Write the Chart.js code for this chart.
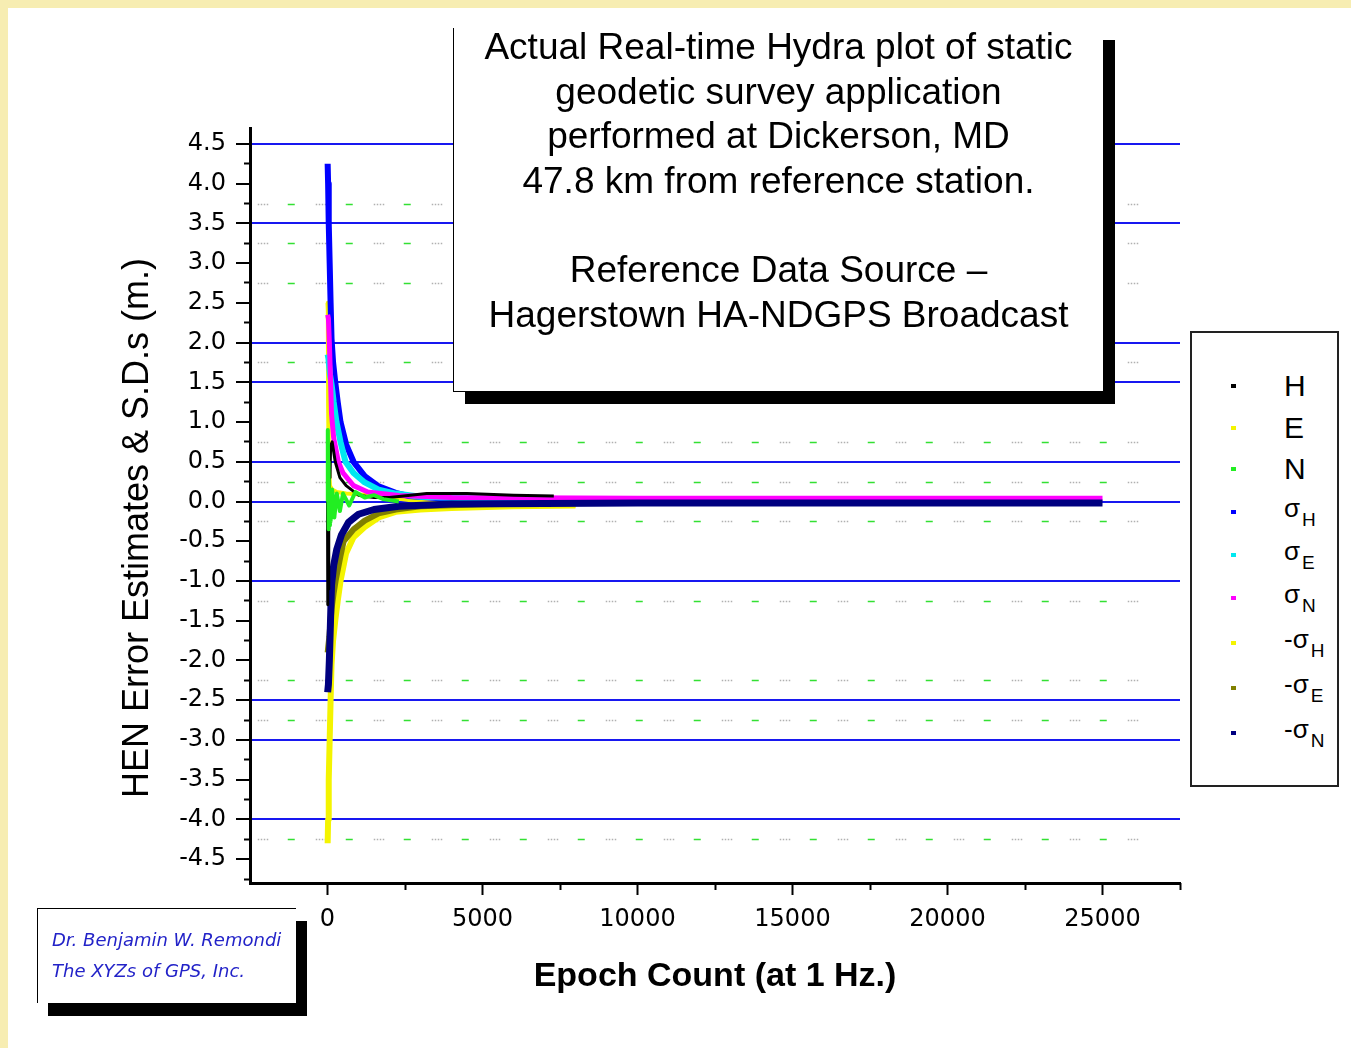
<!DOCTYPE html>
<html>
<head>
<meta charset="utf-8">
<title>Hydra plot</title>
<script src="https://cdn.jsdelivr.net/npm/chart.js@4.4.1/dist/chart.umd.min.js"></script>
<style>
  html, body { margin: 0; padding: 0; }
  body {
    width: 1351px; height: 1048px; position: relative; overflow: hidden;
    background: #f7edb2;
    font-family: "Liberation Sans", Arial, sans-serif;
  }
  #page { position: absolute; left: 8px; top: 8px; right: 0; bottom: 0; background: #fff; }
  #myChart { position: absolute; left: 0; top: 0; }
  #note {
    position: absolute; left: 453px; top: 28px; width: 650px; height: 364px;
    box-sizing: border-box; background: #fff;
    border-left: 1px solid #000; border-bottom: 1px solid #000;
    box-shadow: 12px 12px 0 #000;
    text-align: center; font-size: 37px; line-height: 44.6px; color: #000;
  }
  #note div { margin-top: -3px; }
  #legend {
    position: absolute; left: 1190px; top: 331px; width: 149px; height: 456px;
    box-sizing: border-box; background: #fff; border: 2px solid #222;
  }
  .mk { position: absolute; width: 5px; height: 4px; }
  .lb { position: absolute; color: #000; line-height: 1; }
  .lb sub { font-size: 19px; vertical-align: -9px; margin-left: 2px; }
  #sign {
    position: absolute; left: 37px; top: 908px; width: 259px; height: 95px;
    box-sizing: border-box; background: #fff;
    border-top: 1px solid #000; border-left: 1px solid #000;
    box-shadow: 11px 13px 0 #000;
    padding: 15px 0 0 14px;
    font-family: "DejaVu Sans", sans-serif; font-style: italic;
    font-size: 18px; line-height: 31px; color: #2323c8;
    white-space: nowrap;
  }
</style>
</head>
<body>
<div id="page"></div>
<canvas id="myChart" width="1351" height="1048"></canvas>
<div id="note"><div>Actual Real-time Hydra plot of static<br>geodetic survey application<br>performed at Dickerson, MD<br>47.8 km from reference station.<br><br>Reference Data Source –<br>Hagerstown HA-NDGPS Broadcast</div></div>
<div id="legend"></div>
<div id="sign">Dr. Benjamin W. Remondi<br>The XYZs of GPS, Inc.</div>
<script>
// tick positions
const yMajor = [-4.5, -4, -3.5, -3, -2.5, -2, -1.5, -1, -0.5, 0, 0.5, 1, 1.5, 2, 2.5, 3, 3.5, 4, 4.5];
const yMinor = [-4.75, -4.25, -3.75, -3.25, -2.75, -2.25, -1.75, -1.25, -0.75, -0.25, 0.25, 0.75, 1.25, 1.75, 2.25, 2.75, 3.25, 3.75, 4.25];
const xMajor = [0, 5000, 10000, 15000, 20000, 25000];
const xMinor = [2500, 7500, 12500, 17500, 22500, 27500];
const blueLines = [4.5, 3.5, 2, 1.5, 0.5, 0, -1, -2.5, -3, -4];
const dottedLines = [3.75, 3.25, 2.75, 1.75, 0.75, 0.25, -0.25, -1.25, -2.25, -2.75, -4.25];

// series (epoch, metres)
const hEpoch = [0, 5, 15, 25, 40, 60, 80, 100, 150, 250, 400, 600, 1000, 1500, 2000, 3200, 4500, 6000, 7300];
const hVals  = [0.0, -1.3, -0.8, -1.1, -0.4, 0.6, 0.3, 0.7, 0.75, 0.5, 0.3, 0.2, 0.08, 0.05, 0.05, 0.1, 0.1, 0.08, 0.07];
const eEpoch = [0, 10, 20, 40, 80, 150, 300, 600, 1000, 1500, 2000, 3000, 4000, 6000, 8000];
const eVals  = [2.5, 2.4, 1.2, 0.5, 0.2, 0.15, 0.12, 0.1, 0.09, 0.08, 0.05, 0.0, -0.04, -0.05, -0.05];
const nEpoch = [0, 10, 20, 30, 45, 60, 80, 100, 150, 220, 300, 400, 500, 700, 900, 1200, 1500, 1800, 2300];
const nVals  = [0.0, 0.9, 0.5, -0.35, 0.3, -0.3, 0.1, -0.25, 0.15, -0.2, 0.1, -0.12, 0.1, -0.05, 0.12, 0.05, 0.08, 0.03, 0.0];
const sigHEpoch = [5, 20, 40, 70, 100, 130, 180, 250, 330, 420, 600, 840, 1200, 1650, 2200, 2600, 3500, 5000, 8000];
const sigHVals  = [4.25, 4.0, 3.5, 3.0, 2.5, 2.05, 1.75, 1.5, 1.25, 1.0, 0.72, 0.5, 0.32, 0.19, 0.11, 0.07, 0.045, 0.03, 0.02];
const sigEEpoch = [5, 30, 80, 140, 200, 290, 420, 580, 840, 1200, 1650, 2200, 3000, 5000, 8000];
const sigEVals  = [1.85, 1.8, 1.6, 1.45, 1.25, 1.0, 0.75, 0.5, 0.36, 0.24, 0.15, 0.1, 0.06, 0.035, 0.02];
const sigNEpoch = [5, 30, 60, 100, 130, 200, 350, 500, 840, 1300, 2300, 4000, 10000, 25000];
const sigNVals  = [2.35, 2.3, 2.0, 1.5, 1.1, 0.8, 0.5, 0.36, 0.2, 0.12, 0.075, 0.05, 0.04, 0.04];
const negSigHEpoch = [5, 20, 40, 70, 100, 130, 180, 250, 330, 420, 600, 840, 1200, 1650, 2200, 3000, 4000, 6000, 8000];
const negSigHVals  = [-4.3, -4.0, -3.5, -3.0, -2.5, -2.05, -1.75, -1.5, -1.25, -1.0, -0.65, -0.45, -0.32, -0.2, -0.13, -0.1, -0.08, -0.06, -0.05];
const negSigEEpoch = [5, 60, 130, 200, 260, 420, 520, 840, 1200, 1650, 2200, 3000, 5000, 8000];
const negSigEVals  = [-1.9, -1.7, -1.35, -1.15, -1.0, -0.68, -0.5, -0.35, -0.24, -0.15, -0.1, -0.06, -0.035, -0.02];
const negSigNEpoch = [5, 30, 60, 90, 130, 200, 300, 450, 680, 1000, 1500, 2300, 4000, 10000, 25000];
const negSigNVals  = [-2.4, -2.3, -2.0, -1.6, -1.05, -0.8, -0.6, -0.42, -0.26, -0.16, -0.1, -0.06, -0.03, -0.02, -0.02];

const seriesNames  = ['H', 'E', 'N', 'σH', 'σE', 'σN', '-σH', '-σE', '-σN'];
const seriesColors = ['#000000', '#f4f400', '#22ee22', '#0000ff', '#00e8f0', '#ff00ff', '#f4f400', '#808000', '#000080'];
const seriesEpochs = [hEpoch, eEpoch, nEpoch, sigHEpoch, sigEEpoch, sigNEpoch, negSigHEpoch, negSigEEpoch, negSigNEpoch];
const seriesVals   = [hVals, eVals, nVals, sigHVals, sigEVals, sigNVals, negSigHVals, negSigEVals, negSigNVals];
const drawOrder    = [1, 6, 0, 5, 4, 3, 8, 7, 2];   // lower = on top
const lineWidths   = [3, 4, 4, 6, 6, 5, 6, 6, 7];

const datasets = seriesNames.map((name, i) => ({
  label: name,
  data: seriesEpochs[i].map((x, j) => ({ x: x, y: seriesVals[i][j] })),
  showLine: true,
  borderColor: seriesColors[i],
  backgroundColor: seriesColors[i],
  borderWidth: lineWidths[i],
  borderJoinStyle: 'round',
  pointRadius: 0,
  order: drawOrder[i]
}));

// dotted rows and axis titles
const decor = {
  id: 'decor',
  beforeDatasetsDraw(chart) {
    const ctx = chart.ctx;
    const y = chart.scales.y, x = chart.scales.x;
    const x0 = x.getPixelForValue(-2250), x1 = x.getPixelForValue(26300);
    ctx.save();
    ctx.lineWidth = 1.5;
    dottedLines.forEach(v => {
      const py = Math.round(y.getPixelForValue(v)) + 0.5;
      ctx.strokeStyle = '#b0b0b0';
      ctx.setLineDash([1.5, 1.5, 1.5, 1.5, 1.5, 1.5, 1.5, 47.5]);
      ctx.lineDashOffset = 0;
      ctx.beginPath(); ctx.moveTo(x0, py); ctx.lineTo(x1, py); ctx.stroke();
      ctx.strokeStyle = '#33e033';
      ctx.setLineDash([7, 51]);
      ctx.lineDashOffset = -30;
      ctx.beginPath(); ctx.moveTo(x0, py); ctx.lineTo(x1, py); ctx.stroke();
    });
    ctx.restore();
  },
  afterDraw(chart) {
    const ctx = chart.ctx;
    ctx.save();
    ctx.fillStyle = '#000';
    ctx.textAlign = 'center';
    ctx.textBaseline = 'middle';
    ctx.font = '36px "Liberation Sans", Arial, sans-serif';
    ctx.translate(138, 528);
    ctx.rotate(-Math.PI / 2);
    ctx.fillText('HEN Error Estimates & S.D.s (m.)', 0, 0);
    ctx.restore();
    ctx.save();
    ctx.fillStyle = '#000';
    ctx.textAlign = 'center';
    ctx.textBaseline = 'middle';
    ctx.font = 'bold 34px "Liberation Sans", Arial, sans-serif';
    ctx.fillText('Epoch Count (at 1 Hz.)', 715, 977);
    ctx.restore();
  }
};

const tickFont = { family: '"DejaVu Sans", sans-serif', size: 24 };

const ctx = document.getElementById('myChart').getContext('2d');
const myChart = new Chart(ctx, {
  type: 'scatter',
  data: { datasets: datasets },
  plugins: [decor],
  options: {
    responsive: false,
    animation: false,
    devicePixelRatio: 1,
    layout: { padding: { left: 0, top: 128, right: 171, bottom: 0 } },
    plugins: { legend: { display: false }, tooltip: { enabled: false } },
    scales: {
      x: {
        type: 'linear', position: 'bottom', weight: 1,
        min: -2500, max: 27500,
        afterBuildTicks: s => { s.ticks = xMajor.map(v => ({ value: v })); },
        afterFit: s => { s.height = 165; },
        ticks: { font: tickFont, color: '#000', padding: 10, maxRotation: 0, callback: v => String(v) },
        grid: { drawOnChartArea: false, tickLength: 12, tickWidth: 2, tickColor: '#000' },
        border: { color: '#000', width: 3 }
      },
      xMinor: {
        type: 'linear', position: 'bottom', weight: 0,
        min: -2500, max: 27500,
        afterBuildTicks: s => { s.ticks = xMinor.map(v => ({ value: v })); },
        afterFit: s => { s.height = 0; },
        ticks: { display: false },
        grid: { drawOnChartArea: false, tickLength: 7, tickWidth: 2, tickColor: '#000' },
        border: { display: false }
      },
      y: {
        type: 'linear', position: 'left', weight: 1,
        min: -4.8, max: 4.7,
        afterBuildTicks: s => { s.ticks = yMajor.map(v => ({ value: v })); },
        afterFit: s => { s.width = 250; },
        ticks: { font: tickFont, color: '#000', padding: 10, callback: v => v.toFixed(1) },
        grid: {
          color: c => blueLines.includes(c.tick && c.tick.value) ? '#1818f0' : 'rgba(0,0,0,0)',
          lineWidth: c => blueLines.includes(c.tick && c.tick.value) ? 2 : 0,
          tickLength: 14, tickWidth: 2, tickColor: '#000'
        },
        border: { color: '#000', width: 3 }
      },
      yMinor: {
        type: 'linear', position: 'left', weight: 0,
        min: -4.8, max: 4.7,
        afterBuildTicks: s => { s.ticks = yMinor.map(v => ({ value: v })); },
        afterFit: s => { s.width = 0; },
        ticks: { display: false },
        grid: { drawOnChartArea: false, tickLength: 6, tickWidth: 2, tickColor: '#000' },
        border: { display: false }
      }
    }
  }
});

// legend box built from the series
const legendBox = document.getElementById('legend');
const rowTops = [386, 428, 469, 512, 555, 598, 643, 688, 733];
seriesNames.forEach((name, i) => {
  const mk = document.createElement('div');
  mk.className = 'mk';
  mk.style.left = (1233 - 1190 - 2 - 2) + 'px';
  mk.style.top = (rowTops[i] - 331 - 2 - 2) + 'px';
  mk.style.background = seriesColors[i];
  legendBox.appendChild(mk);
  const lb = document.createElement('div');
  lb.className = 'lb';
  lb.style.left = (1284 - 1190 - 2) + 'px';
  if (name.length === 1) {
    lb.style.fontSize = '30px';
    lb.style.top = (rowTops[i] - 331 - 2 - 15) + 'px';
    lb.textContent = name;
  } else {
    lb.style.fontSize = '26px';
    lb.style.top = (rowTops[i] - 331 - 2 - 17) + 'px';
    lb.innerHTML = name.slice(0, -1) + '<sub>' + name.slice(-1) + '</sub>';
  }
  legendBox.appendChild(lb);
});
</script>
</body>
</html>
